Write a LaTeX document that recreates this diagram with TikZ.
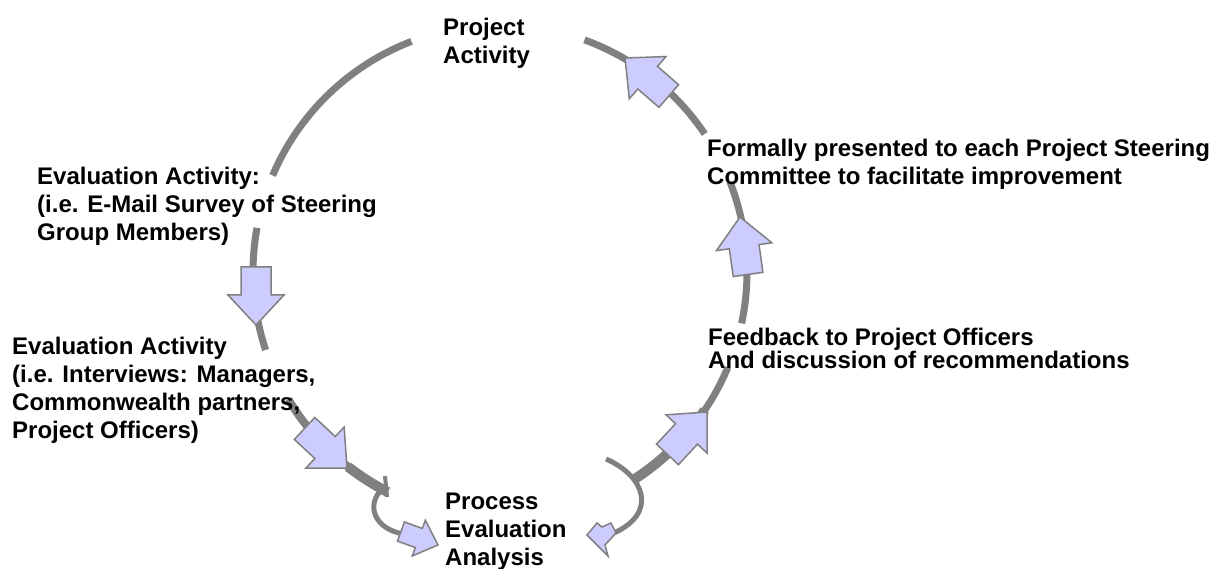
\documentclass[tikz,border=0pt]{standalone}
\usepackage{fontspec}
\setmainfont{Liberation Sans}
\definecolor{ringgray}{HTML}{808080}
\definecolor{arrowfill}{HTML}{CCCCFF}
\tikzset{
  ring/.style={draw=ringgray, line width=7pt},
  ringthick/.style={draw=ringgray, line width=10pt},
  blockarrow/.style={draw=ringgray, fill=arrowfill, line width=1.5pt, line join=miter},
  cyclelabel/.style={font=\bfseries\fontsize{24}{28}\selectfont, align=left, anchor=base west, inner sep=0pt},
}
% block arrow: tip, direction, size
\newcommand{\blockarr}[3]{%
  \draw[blockarrow, shift={#1}, rotate=#2, scale=#3] (0,0) -- (-30,28) -- (-30,15) -- (-58,15) -- (-58,-15) -- (-30,-15) -- (-30,-28) -- cycle;}
\begin{document}
\begin{tikzpicture}[x=1pt, y=1pt]
	  \useasboundingbox (0,0) rectangle (1213,568);
	  \coordinate (c) at (500,296);
	  % ring pieces
	  \draw[ring] ([shift={(c)}]111:247) arc[start angle=111, end angle=157, radius=247];
	  \draw[ring] ([shift={(c)}]169.7:247) arc[start angle=169.7, end angle=198.4, radius=247];
	  \draw[ring, line width=8pt] ([shift={(c)}]211:247) arc[start angle=211, end angle=232, radius=247];
	  \draw[ringthick] ([shift={(c)}]232:247) arc[start angle=232, end angle=243, radius=247];
	  \draw[ring] ([shift={(c)}]34:247) arc[start angle=34, end angle=70, radius=247];
	  \draw[ring] ([shift={(c)}]-12:247) arc[start angle=-12, end angle=21.4, radius=247];
	  \draw[ring] ([shift={(c)}]-34:247) arc[start angle=-34, end angle=-22.7, radius=247];
	  \draw[ringthick] ([shift={(c)}]-57:247) arc[start angle=-57, end angle=-34, radius=247];
	  % hooks at the bottom
	  \draw[ringgray, line width=4pt] (385,92) -- (387,71);
	  \draw[ringgray, line width=5pt] (383,80) .. controls (364,62) and (376,38) .. (404,34);
	  \draw[ringgray, line width=5pt] (606,109) .. controls (645,92) and (658,55) .. (614,35);
	  % arrows
	  \blockarr{(256,243)}{270}{1}
	  \blockarr{(347,100)}{-43}{1}
	  \blockarr{(625,510)}{139}{1}
	  \blockarr{(740,351)}{98}{1}
	  \blockarr{(707,156)}{47}{1}
	  \blockarr{(438,23)}{-20}{0.68}
	  \draw[blockarrow] (587,33) -- (597,45) -- (602,41) -- (611,45) -- (616,35) -- (605,23) -- (608,12) -- cycle;
	  % labels (anchored at the last baseline)
	  \node[cyclelabel] (proj) at (443,504) {Project\\Activity};
	  \node[cyclelabel] (survey) at (37,327) {Evaluation Activity:\\(i.e. E-Mail Survey of Steering\\Group Members)};
	  \node[cyclelabel] (interv) at (12,129) {Evaluation Activity\\(i.e. Interviews: Managers,\\Commonwealth partners,\\Project Officers)};
	  \node[cyclelabel] (analysis) at (445,3) {Process\\Evaluation\\Analysis};
	  \node[cyclelabel] (steer) at (707,383) {Formally presented to each Project Steering\\Committee to facilitate improvement};
	  \node[cyclelabel, font=\bfseries\fontsize{24}{21}\selectfont] (feedback) at (708,199) {Feedback to Project Officers\\And discussion of recommendations};
	\end{tikzpicture}
\end{document}
